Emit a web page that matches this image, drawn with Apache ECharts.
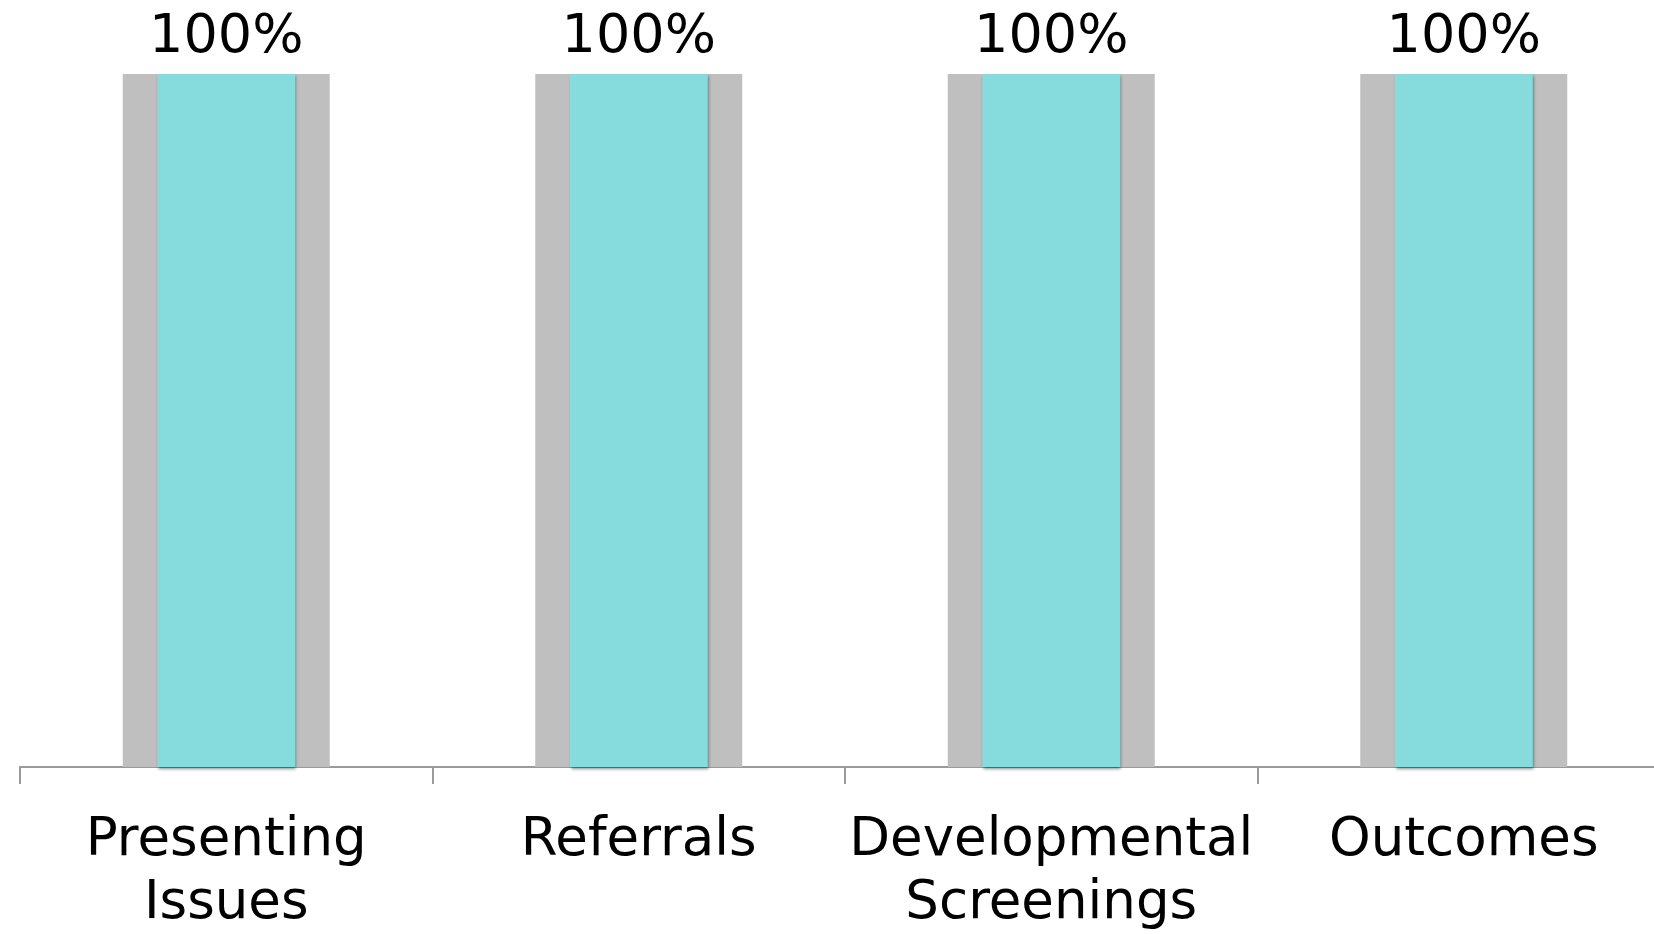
<!DOCTYPE html>
<html>
<head>
<meta charset="utf-8">
<script src="https://cdn.jsdelivr.net/npm/echarts@6/dist/echarts.min.js"></script>
<style>
  html, body { margin: 0; padding: 0; background: #ffffff; }
  #chart { width: 1654px; height: 934px; }
</style>
</head>
<body>
<div id="chart"></div>
<script>
// Categories shown along the x axis
const categories = ['Presenting\nIssues', 'Referrals', 'Developmental\nScreenings', 'Outcomes'];
// Full scale (grey backing bars)
const targetValues = [100, 100, 100, 100];
// Completion percentage (teal bars)
const completedValues = [100, 100, 100, 100];

const FONT = '"DejaVu Sans", Verdana, sans-serif';

const chart = echarts.init(document.getElementById('chart'), null, { renderer: 'canvas' });

chart.setOption({
  animation: false,
  backgroundColor: '#ffffff',
  // the plot runs slightly past the right edge of the canvas
  grid: {
    left: 20, width: 1650, top: 74, bottom: 167,
    containLabel: false,
    outerBoundsMode: 'none'
  },
  xAxis: [
    {
      type: 'category',
      data: categories,
      axisLine: { show: true, lineStyle: { color: '#9a9a9a', width: 2 } },
      axisTick: { show: true, length: 17, lineStyle: { color: '#9a9a9a', width: 2 } },
      axisLabel: {
        interval: 0,
        margin: 43,
        fontFamily: FONT,
        fontSize: 53,
        lineHeight: 63,
        color: '#000000'
      }
    },
    {
      // hidden twin axis so the grey backing bars centre on their own
      type: 'category',
      data: categories,
      position: 'bottom',
      show: false
    }
  ],
  yAxis: {
    type: 'value',
    min: 0,
    max: 100,
    show: false,
    splitLine: { show: false }
  },
  series: [
    {
      name: 'Target',
      type: 'bar',
      xAxisIndex: 1,
      data: targetValues,
      barWidth: 207,
      itemStyle: { color: '#bfbfbf' },
      silent: true,
      z: 1
    },
    {
      name: 'Completed',
      type: 'bar',
      xAxisIndex: 0,
      data: completedValues,
      barWidth: 138,
      itemStyle: {
        color: '#86dcdc',
        shadowColor: 'rgba(0,0,0,0.45)',
        shadowBlur: 3,
        shadowOffsetX: 1,
        shadowOffsetY: 2
      },
      label: {
        show: true,
        position: 'top',
        distance: 9,
        formatter: p => p.value + '%',
        fontFamily: FONT,
        fontSize: 54,
        color: '#000000'
      },
      z: 2
    }
  ]
});
</script>
</body>
</html>
